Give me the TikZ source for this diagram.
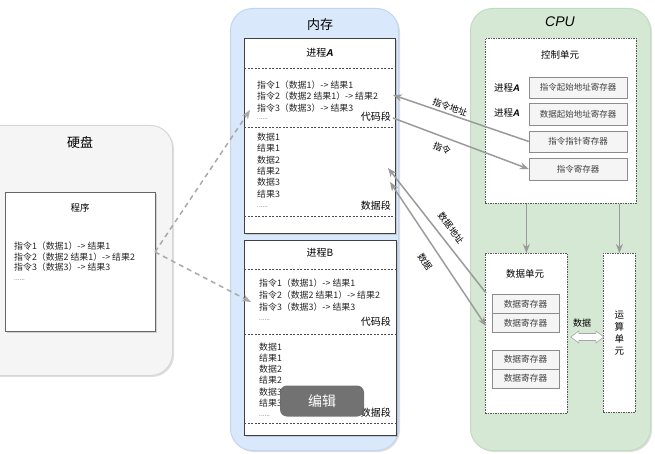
\documentclass[tikz,border=0pt]{standalone}
\usepackage{fontspec}
\setmainfont{Noto Sans CJK SC}
\newfontfamily\latinfont{Liberation Sans}
\usepackage{tikz}
\usetikzlibrary{arrows.meta,shadows}

\definecolor{diskbg}{HTML}{F5F5F5}
\definecolor{diskline}{HTML}{D6D6D6}
\definecolor{membg}{HTML}{DAE8FC}
\definecolor{memline}{HTML}{C2D5F0}
\definecolor{cpubg}{HTML}{D5E8D4}
\definecolor{cpuline}{HTML}{C0DBBF}
\definecolor{arrowgray}{HTML}{9A9A9A}
\definecolor{regbg}{HTML}{F5F5F5}
\definecolor{tagbg}{HTML}{6B6B6B}

\begin{document}
\begin{tikzpicture}[x=1pt, y=-1pt, >=Stealth, font=\fontsize{8.9}{10}\selectfont,
	panel/.style={rounded corners=22pt, line width=1pt, anchor=north west, inner sep=0,
		drop shadow={shadow xshift=1.5pt, shadow yshift=-1.5pt, opacity=0.25}},
	membox/.style={draw=black!75, fill=white, line width=0.8pt, anchor=north west, inner sep=0,
		drop shadow={shadow xshift=1.2pt, shadow yshift=-1.2pt, opacity=0.3}},
	unitbox/.style={draw=black!65, fill=white, line width=0.8pt, dash pattern=on 1.5pt off 1pt,
		anchor=north west, inner sep=0},
	reg/.style={draw=black!45, fill=regbg, minimum width=98, minimum height=21.5, inner sep=0,
		text=black!75, font=\fontsize{8.5}{10}\selectfont,
		drop shadow={shadow xshift=1pt, shadow yshift=-1pt, opacity=0.25}},
	dreg/.style={reg, minimum width=67, minimum height=18.8, font=\fontsize{8.7}{10}\selectfont},
	txt/.style={anchor=west, inner sep=0, text=black!85},
	dots/.style={anchor=west, inner sep=0, text=black!70, font=\fontsize{6.5}{7}\selectfont},
	seg/.style={anchor=east, inner sep=0, font=\fontsize{10}{12}\selectfont},
	title/.style={inner sep=0, font=\fontsize{13}{15}\selectfont},
	sub/.style={inner sep=0, font=\fontsize{9.5}{12}\selectfont},
	sep/.style={draw=black!70, line width=0.7pt, dash pattern=on 2pt off 1.5pt},
	flow/.style={draw=arrowgray, line width=1.5pt, -{Stealth[length=9pt, width=7pt]}},
	load/.style={flow, draw=arrowgray!85, dash pattern=on 5pt off 4pt},
	lbl/.style={inner sep=0, font=\fontsize{9}{11}\selectfont}]
	\useasboundingbox (0,0) rectangle (655,454);
	% three panels
	\node[panel, fill=diskbg, draw=diskline, minimum width=202, minimum height=250] (disk) at (-30,125) {};
	\node[panel, fill=membg, draw=memline, minimum width=168, minimum height=442] (mem) at (230,8) {};
	\node[panel, fill=cpubg, draw=cpuline, minimum width=180, minimum height=442] (cpu) at (470,8) {};
	\node[title] (disk-t) at (80,143) {硬盘};
	\node[title] (mem-t) at (320,25) {内存};
	\node[title, font=\fontsize{14}{16}\selectfont] (cpu-t) at (560,22) {\latinfont\itshape CPU};

	% program on disk
	\node[membox, draw=black!60, minimum width=150, minimum height=139] (prog) at (5,192) {};
	\node[sub] (prog-t) at (80,208) {程序};
	\foreach \s [count=\i] in {指令1（数据1）-> 结果1, 指令2（数据2 结果1）-> 结果2, 指令3（数据3）-> 结果3}
		\node[txt] (prog-l\i) at (14,235.5+10.7*\i) {\s};
	\node[dots] (prog-l4) at (14,280) {......};

	% process A
	\node[membox, minimum width=151, minimum height=195] (procA) at (244,38) {};
	\node[sub, font=\fontsize{10}{12}\selectfont] (procA-t) at (320,53) {进程{\latinfont\bfseries\itshape A}};
	\draw[sep] (procA.west |- 0,68) -- (procA.east |- 0,68);
	\draw[sep] (procA.west |- 0,127) -- (procA.east |- 0,127);
	\draw[sep] (procA.west |- 0,216) -- (procA.east |- 0,216);
	\foreach \s [count=\i] in {指令1（数据1）-> 结果1, 指令2（数据2 结果1）-> 结果2, 指令3（数据3）-> 结果3}
		\node[txt] (pa-c\i) at (257,73.5+11.5*\i) {\s};
	\node[dots] (pa-c4) at (257,119) {......};
	\node[seg] (pa-code) at (391,117) {代码段};
	\foreach \s [count=\i] in {数据1,结果1,数据2,结果2,数据3,结果3}
		\node[txt] (pa-d\i) at (257,125.6+11.4*\i) {\s};
	\node[dots] (pa-d7) at (257,207) {......};
	\node[seg] (pa-data) at (391,206) {数据段};

	% process B
	\node[membox, minimum width=152, minimum height=195] (procB) at (244,240) {};
	\node[sub, font=\fontsize{10}{12}\selectfont] (procB-t) at (320,253) {进程B};
	\draw[sep] (procB.west |- 0,269) -- (procB.east |- 0,269);
	\draw[sep] (procB.west |- 0,334) -- (procB.east |- 0,334);
	\draw[sep] (procB.west |- 0,423) -- (procB.east |- 0,423);
	\foreach \s [count=\i] in {指令1（数据1）-> 结果1, 指令2（数据2 结果1）-> 结果2, 指令3（数据3）-> 结果3}
		\node[txt] (pb-c\i) at (259,271+12*\i) {\s};
	\node[dots] (pb-c4) at (259,320) {......};
	\node[seg] (pb-code) at (391,322) {代码段};
	\foreach \s [count=\i] in {数据1,结果1,数据2,结果2,数据3,结果3}
		\node[txt] (pb-d\i) at (259,335.8+11.2*\i) {\s};
	\node[dots] (pb-d7) at (259,416) {......};
	\node[seg] (pb-data) at (391,413) {数据段};

	% control unit
	\node[unitbox, minimum width=151, minimum height=165] (ctrl) at (485,38) {};
	\node[sub] (ctrl-t) at (560,55) {控制单元};
	\node[reg] (istart) at (578,87.5) {指令起始地址寄存器};
	\node[reg] (dstart) at (578,114) {数据起始地址寄存器};
	\node[reg] (iptr) at (578,141.5) {指令指针寄存器};
	\node[reg] (ireg) at (578,169) {指令寄存器};
	\node[sub] (istart-p) at (507,88) {进程{\latinfont\bfseries\itshape A}};
	\node[sub] (dstart-p) at (507,113) {进程{\latinfont\bfseries\itshape A}};

	% data unit and ALU
	\node[unitbox, minimum width=82, minimum height=160] (du) at (485,253) {};
	\node[sub] (du-t) at (525,274) {数据单元};
	\node[dreg] (dr1) at (525.5,304) {数据寄存器};
	\node[dreg] (dr2) at (525.5,322.8) {数据寄存器};
	\node[dreg] (dr3) at (525.5,359.5) {数据寄存器};
	\node[dreg] (dr4) at (525.5,378.3) {数据寄存器};
	\node[unitbox, minimum width=32, minimum height=159, align=center,
		font=\fontsize{9.5}{12}\selectfont] (alu) at (603,253) {运\\算\\单\\元};
	\draw[flow] (ctrl.south -| du.north) -- (du.north);
	\draw[flow] (ctrl.south -| alu.north) -- (alu.north);
	\coordinate (dl) at (du.east |- 0,337);
	\draw[draw=black!35, fill=white!92!cpubg, line width=0.6pt] ([xshift=3pt]dl) -- ++(8,-6) -- ++(0,2.5)
		-- ++(17,0) -- ++(0,-2.5) -- ++(8,6) -- ++(-8,6) -- ++(0,-2.5) -- ++(-17,0) -- ++(0,2.5) -- cycle;
	\node[lbl] (dl-t) at (582,323) {数据};

	% memory <-> CPU
	\coordinate (cA1) at (393,95);
	\coordinate (cA2) at (393,118);
	\coordinate (cA3) at (388,168);
	\coordinate (cA4) at (390,182);
	\coordinate (dIn1) at (486,293);
	\coordinate (dIn2) at (486,326);
	\draw[flow] (iptr.west) -- (cA1);
	\draw[flow] (cA2) -- (ireg.west);
	\draw[flow] (dIn1) -- (cA3);
	\draw[flow, {Stealth[length=9pt, width=7pt]}-{Stealth[length=9pt, width=7pt]}] (cA4) -- (dIn2);
	\node[lbl, rotate=-20] (l-iaddr) at (450,107) {指令地址};
	\node[lbl, rotate=-20] (l-inst) at (442,148) {指令};
	\node[lbl, rotate=-53] (l-daddr) at (451,228) {数据地址};
	\node[lbl, rotate=-56] (l-data) at (425,262) {数据};

	% loading the program
	\coordinate (pout) at (155,252);
	\coordinate (pinA) at (250,110);
	\coordinate (pinB) at (251,302);
	\draw[load] (pout) -- (pinA);
	\draw[load] (pout) -- (pinB);

	% overlay tag
	\node[fill=tagbg, fill opacity=0.95, rounded corners=7pt, minimum width=84, minimum height=31,
		text=white, text opacity=1, font=\fontsize{14}{16}\selectfont] (tag) at (322,401) {编辑};
\end{tikzpicture}
\end{document}
